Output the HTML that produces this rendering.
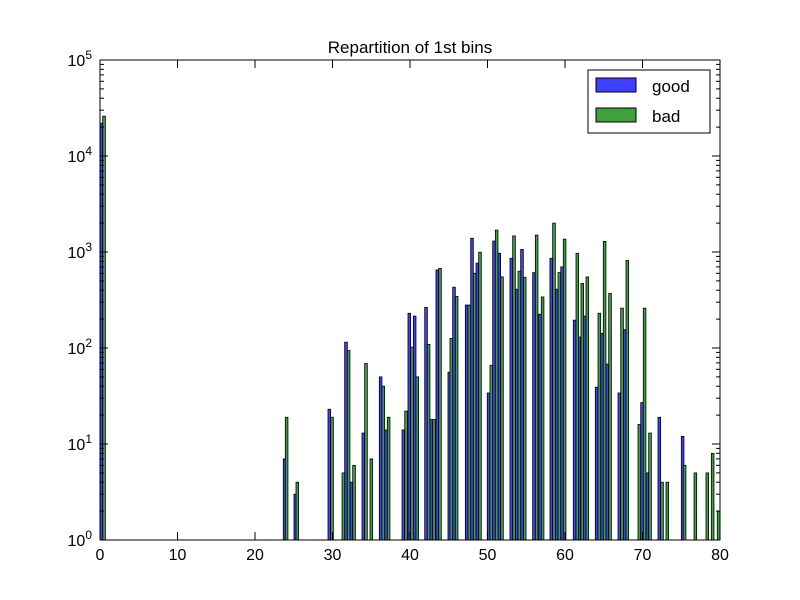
<!DOCTYPE html>
<html><head><meta charset="utf-8"><style>
html,body{margin:0;padding:0;background:#fff;}
svg{display:block;font-family:"Liberation Sans","DejaVu Sans",sans-serif;}
</style></head><body>
<svg id="chart" width="800" height="600" viewBox="0 0 800 600">
<rect x="0" y="0" width="800" height="600" fill="#fff"/>
<text x="410" y="53" font-size="17" text-anchor="middle">Repartition of 1st bins</text>
<g id="bars"></g>
<g id="axes"></g>
<rect x="100" y="60" width="620" height="480" fill="none" stroke="#000" stroke-width="1"/>
<g>
<rect x="588" y="70" width="122" height="63" fill="#fff" stroke="#000" stroke-width="1"/>
<rect x="596" y="78" width="40" height="14" fill="rgb(64,64,255)" stroke="#000"/>
<text x="652" y="92" font-size="17">good</text>
<rect x="596" y="108" width="40" height="14" fill="rgb(64,160,64)" stroke="#000"/>
<text x="652" y="122" font-size="17">bad</text>
</g>
</svg>
<script>
const goodX=[0.00,23.65,25.03,29.42,31.57,32.26,33.81,36.04,36.74,38.97,39.74,40.43,41.90,42.58,43.35,44.90,45.51,47.14,47.83,48.52,49.97,50.67,51.35,52.90,53.59,54.28,55.83,56.61,58.06,58.75,59.45,61.07,61.68,62.36,63.91,64.61,65.29,66.84,67.52,69.77,70.45,72.00,75.01];
const goodV=[22000,7,3,23,115,4,13,50,14,14,230,215,265,18,650,56,430,280,1390,765,34,1300,970,860,410,1065,610,225,860,410,700,195,130,215,39,142,68,34,155,27,5,19,12];
const badX=[0.35,23.91,25.29,29.77,31.23,31.91,32.61,34.15,34.84,36.39,37.07,39.32,40.09,40.77,42.23,42.93,43.70,45.16,45.85,47.48,48.17,48.86,50.32,51.01,51.70,53.25,53.94,54.63,56.17,56.94,58.41,59.10,59.78,61.42,62.06,62.71,64.26,64.94,65.64,67.19,67.87,69.42,70.10,70.80,72.35,73.03,75.26,76.65,78.19,78.88,79.65];
const badV=[26000,19,4,19,5,94,6,69,7,40,19,22,102,50,109,18,675,126,345,280,600,995,66,1690,550,1470,630,545,1500,340,2000,610,1360,970,470,550,230,1290,370,260,815,16,260,13,4,4,6,5,5,8,2];
const xTicks=[0,10,20,30,40,50,60,70,80];
const yExps=[0,1,2,3,4,5];
const BW=0.34;
const X0=100,X1=720,Y0=540,Y1=60,XMAX=80,DEC=5;
const NS="http://www.w3.org/2000/svg";
function sx(v){return X0+v/XMAX*(X1-X0);}
function sy(v){return Y0-Math.log10(v)/DEC*(Y0-Y1);}
const bars=document.getElementById('bars');
function drawBars(xs,vs,fill,name){
  for(let i=0;i<xs.length;i++){
    const r=document.createElementNS(NS,'rect');
    const x=sx(xs[i]);let x2=sx(xs[i]+BW);if(x2>X1)x2=X1;
    const y=sy(vs[i]);
    r.setAttribute('x',x);r.setAttribute('y',y);
    r.setAttribute('width',x2-x);r.setAttribute('height',Y0-y);
    r.setAttribute('fill',fill);r.setAttribute('stroke','#000');r.setAttribute('stroke-width','0.8');
    
    
    bars.appendChild(r);
  }
}
drawBars(goodX,goodV,'rgb(64,64,255)','bar-good');
drawBars(badX,badV,'rgb(64,160,64)','bar-bad');
const axes=document.getElementById('axes');
function line(x1,y1,x2,y2){const l=document.createElementNS(NS,'line');l.setAttribute('x1',x1);l.setAttribute('y1',y1);l.setAttribute('x2',x2);l.setAttribute('y2',y2);l.setAttribute('stroke','#000');l.setAttribute('stroke-width','1');axes.appendChild(l);return l;}
xTicks.forEach(t=>{
  const x=sx(t);
  const a=line(x,Y0,x,Y0-8);
  
  
  line(x,Y1,x,Y1+8);
  const tx=document.createElementNS(NS,'text');
  tx.setAttribute('x',x);tx.setAttribute('y',Y0+20);tx.setAttribute('font-size','16');tx.setAttribute('text-anchor','middle');
  tx.textContent=t;
  
  
  axes.appendChild(tx);
});
yExps.forEach(e=>{
  const y=sy(Math.pow(10,e));
  const a=line(X0,y,X0+8,y);
  
  
  line(X1,y,X1-8,y);
  if(e<DEC){for(let m=2;m<10;m++){const ym=sy(m*Math.pow(10,e));line(X0,ym,X0+4,ym);line(X1,ym,X1-4,ym);}}
  const tx=document.createElementNS(NS,'text');
  tx.setAttribute('x',X0-8);tx.setAttribute('y',y+6);tx.setAttribute('font-size','16');tx.setAttribute('text-anchor','end');
  const b=document.createElementNS(NS,'tspan');b.textContent='10';
  const s=document.createElementNS(NS,'tspan');s.textContent=e;s.setAttribute('dy','-7');s.setAttribute('font-size','12');
  tx.appendChild(b);tx.appendChild(s);
  
  
  axes.appendChild(tx);
});
</script>
</body></html>
